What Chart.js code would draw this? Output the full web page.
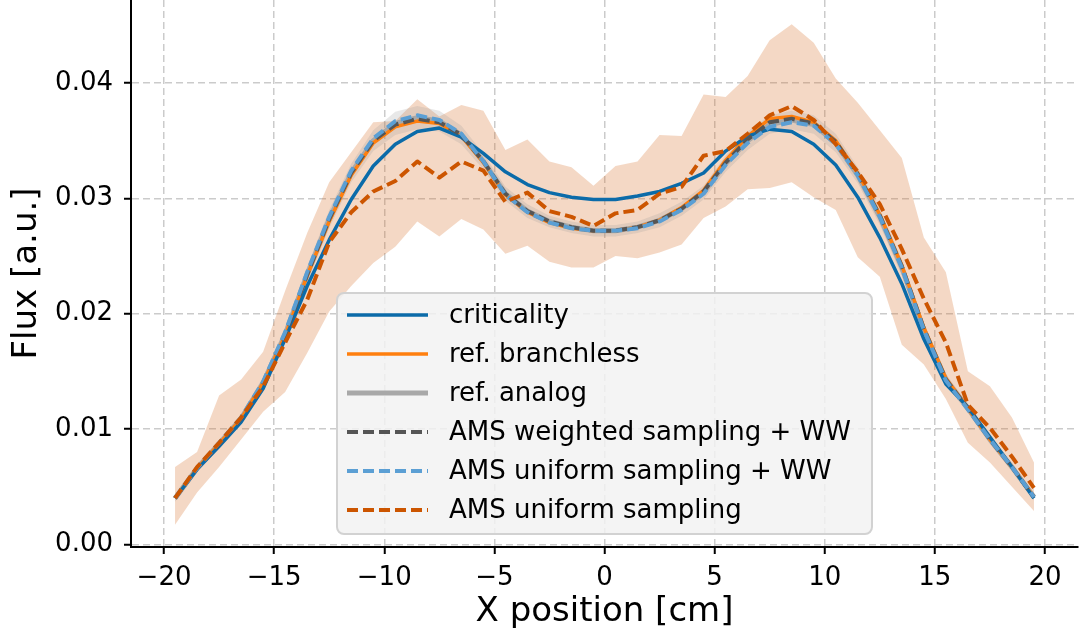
<!DOCTYPE html>
<html>
<head>
<meta charset="utf-8">
<title>Flux profile</title>
<script src="https://cdn.jsdelivr.net/npm/chart.js@4.4.1/dist/chart.umd.min.js"></script>
<style>
    html, body { margin: 0; padding: 0; background: #ffffff; }
    #wrap { width: 1080px; height: 641px; }
</style>
</head>
<body>
<div id="wrap"><canvas id="flux-chart" width="1080" height="641"></canvas></div>
<script>
// --- Data (bin centres, cm) ---

const xPos = [
    -19.5, -18.5, -17.5, -16.5, -15.5, -14.5, -13.5, -12.5, -11.5, -10.5,
    -9.5, -8.5, -7.5, -6.5, -5.5, -4.5, -3.5, -2.5, -1.5, -0.5,
    0.5, 1.5, 2.5, 3.5, 4.5, 5.5, 6.5, 7.5, 8.5, 9.5,
    10.5, 11.5, 12.5, 13.5, 14.5, 15.5, 16.5, 17.5, 18.5, 19.5
];

const xTicks      = [-20, -15, -10, -5, 0, 5, 10, 15, 20];
const xTickLabels = ['\u221220', '\u221215', '\u221210', '\u22125', '0', '5', '10', '15', '20'];
const yTicks      = [0, 0.01, 0.02, 0.03, 0.04];
const yTickLabels = ['0.00', '0.01', '0.02', '0.03', '0.04'];

const criticality = [
    0.0040, 0.0065, 0.0085, 0.0106, 0.0135, 0.0178, 0.0224, 0.0264, 0.0299, 0.0328,
    0.0347, 0.0358, 0.0361, 0.0353, 0.0339, 0.0323, 0.0312, 0.0305, 0.0301, 0.0299,
    0.0299, 0.0302, 0.0306, 0.0313, 0.0322, 0.0341, 0.0354, 0.0360, 0.0358, 0.0347,
    0.0329, 0.0301, 0.0266, 0.0226, 0.0178, 0.0139, 0.0119, 0.0093, 0.0067, 0.0040
];

const refBranchless = [
    0.0040, 0.0066, 0.0087, 0.0109, 0.0140, 0.0181, 0.0233, 0.0280, 0.0320, 0.0348,
    0.0362, 0.0367, 0.0365, 0.0354, 0.0331, 0.0303, 0.0288, 0.0279, 0.0274, 0.0272,
    0.0272, 0.0275, 0.0281, 0.0292, 0.0307, 0.0333, 0.0354, 0.0369, 0.0371, 0.0366,
    0.0350, 0.0322, 0.0286, 0.0242, 0.0188, 0.0144, 0.0118, 0.0091, 0.0067, 0.0041
];

const refAnalog = [
    0.0040, 0.0066, 0.0087, 0.0109, 0.0140, 0.0182, 0.0234, 0.0282, 0.0322, 0.0350,
    0.0365, 0.0370, 0.0367, 0.0355, 0.0332, 0.0304, 0.0289, 0.0280, 0.0275, 0.0272,
    0.0272, 0.0275, 0.0281, 0.0291, 0.0305, 0.0330, 0.0350, 0.0364, 0.0368, 0.0364,
    0.0348, 0.0320, 0.0284, 0.0240, 0.0186, 0.0143, 0.0118, 0.0091, 0.0067, 0.0041
];

const refAnalogHigh = [
    0.0043, 0.0069, 0.0091, 0.0113, 0.0145, 0.0188, 0.0241, 0.0290, 0.0330, 0.0359,
    0.0375, 0.0380, 0.0376, 0.0363, 0.0339, 0.0310, 0.0295, 0.0285, 0.0280, 0.0277,
    0.0277, 0.0280, 0.0287, 0.0297, 0.0311, 0.0337, 0.0358, 0.0372, 0.0376, 0.0372,
    0.0356, 0.0327, 0.0291, 0.0247, 0.0192, 0.0148, 0.0122, 0.0095, 0.0070, 0.0044
];

const refAnalogLow = [
    0.0037, 0.0063, 0.0083, 0.0105, 0.0135, 0.0176, 0.0227, 0.0274, 0.0314, 0.0341,
    0.0355, 0.0360, 0.0358, 0.0347, 0.0325, 0.0298, 0.0283, 0.0275, 0.0270, 0.0267,
    0.0267, 0.0270, 0.0275, 0.0285, 0.0299, 0.0323, 0.0342, 0.0356, 0.0360, 0.0356,
    0.0340, 0.0313, 0.0277, 0.0233, 0.0180, 0.0138, 0.0114, 0.0087, 0.0064, 0.0038
];

const amsWeightedWW = [
    0.0040, 0.0066, 0.0087, 0.0109, 0.0140, 0.0182, 0.0234, 0.0282, 0.0322, 0.0350,
    0.0364, 0.0369, 0.0366, 0.0355, 0.0332, 0.0304, 0.0289, 0.0280, 0.0275, 0.0272,
    0.0272, 0.0275, 0.0281, 0.0291, 0.0306, 0.0331, 0.0351, 0.0366, 0.0369, 0.0365,
    0.0349, 0.0321, 0.0285, 0.0241, 0.0187, 0.0143, 0.0118, 0.0091, 0.0067, 0.0041
];

const amsUniformWW = [
    0.0040, 0.0066, 0.0088, 0.0110, 0.0141, 0.0184, 0.0236, 0.0284, 0.0324, 0.0352,
    0.0367, 0.0372, 0.0368, 0.0356, 0.0332, 0.0303, 0.0288, 0.0279, 0.0274, 0.0272,
    0.0272, 0.0274, 0.0280, 0.0290, 0.0304, 0.0329, 0.0348, 0.0362, 0.0366, 0.0363,
    0.0347, 0.0320, 0.0284, 0.0240, 0.0186, 0.0142, 0.0117, 0.0091, 0.0067, 0.0041
];

const amsUniform = [
    0.0040, 0.0067, 0.0088, 0.0110, 0.0137, 0.0175, 0.0212, 0.0262, 0.0288, 0.0306,
    0.0315, 0.0332, 0.0318, 0.0332, 0.0324, 0.0297, 0.0305, 0.0289, 0.0284, 0.0276,
    0.0287, 0.0290, 0.0304, 0.0310, 0.0337, 0.0341, 0.0356, 0.0372, 0.0380, 0.0368,
    0.0347, 0.0323, 0.0295, 0.0256, 0.0213, 0.0175, 0.0121, 0.0101, 0.0076, 0.0049
];

const amsUniformHigh = [
    0.0067, 0.0080, 0.0129, 0.0143, 0.0167, 0.0220, 0.0270, 0.0314, 0.0340, 0.0366,
    0.0367, 0.0386, 0.0371, 0.0381, 0.0376, 0.0342, 0.0351, 0.0332, 0.0327, 0.0311,
    0.0328, 0.0332, 0.0355, 0.0354, 0.0390, 0.0388, 0.0406, 0.0437, 0.0451, 0.0435,
    0.0404, 0.0383, 0.0359, 0.0335, 0.0266, 0.0236, 0.0150, 0.0137, 0.0110, 0.0071
];

const amsUniformLow = [
    0.0017, 0.0045, 0.0067, 0.0091, 0.0115, 0.0132, 0.0166, 0.0202, 0.0224, 0.0244,
    0.0258, 0.0280, 0.0267, 0.0282, 0.0273, 0.0252, 0.0259, 0.0245, 0.0240, 0.0240,
    0.0250, 0.0248, 0.0253, 0.0260, 0.0283, 0.0293, 0.0308, 0.0309, 0.0314, 0.0301,
    0.0290, 0.0249, 0.0232, 0.0173, 0.0156, 0.0126, 0.0088, 0.0071, 0.0050, 0.0029
];

// --- Styles ---

const FONT = 'DejaVu Sans';
const C_CRIT   = '#0b6ba9';
const C_BRANCH = '#ff7f0e';
const C_ANALOG = '#a8a8a8';
const C_WEIGHT = '#555555';
const C_UNIFWW = '#5b9fd4';
const C_UNIF   = '#cc5500';
const DASH = [11, 5];

function points(values) {
    return xPos.map((x, i) => ({ x, y: values[i] }));
}

function line(label, values, color, width, dash, order, rank) {
    return {
        label,
        data: points(values),
        borderColor: color,
        backgroundColor: color,
        borderWidth: width,
        borderDash: dash,
        borderCapStyle: 'butt',
        borderJoinStyle: 'round',
        pointRadius: 0,
        tension: 0,
        fill: false,
        order,
        legendRank: rank
    };
}

function band(values, color, fill, order) {
    return {
        label: '',
        band: true,
        data: points(values),
        borderWidth: 0,
        borderColor: 'transparent',
        backgroundColor: color,
        pointRadius: 0,
        tension: 0,
        fill,
        order
    };
}

// legend drawn inside the plot area, lower centre
const legendBox = {
    id: 'legendBox',
    afterDraw(chart) {
        const ctx = chart.ctx;
        const items = chart.data.datasets
            .filter(ds => !ds.band)
            .sort((a, b) => a.legendRank - b.legendRank);

        const bx = 337, by = 293, bw = 535, bh = 241;
        ctx.save();
        ctx.beginPath();
        ctx.roundRect(bx, by, bw, bh, 7);
        ctx.fillStyle = 'rgba(242, 242, 242, 0.85)';
        ctx.fill();
        ctx.lineWidth = 2;
        ctx.strokeStyle = '#d2d2d2';
        ctx.stroke();

        ctx.font = '26px "' + FONT + '"';
        ctx.textBaseline = 'middle';
        ctx.textAlign = 'left';

        items.forEach((ds, i) => {
            const y = 315 + i * 39;
            ctx.beginPath();
            ctx.setLineDash(ds.borderDash || []);
            ctx.lineWidth = ds.borderWidth;
            ctx.strokeStyle = ds.borderColor;
            ctx.lineCap = 'butt';
            ctx.moveTo(347, y);
            ctx.lineTo(428, y);
            ctx.stroke();
            ctx.setLineDash([]);
            ctx.fillStyle = '#000000';
            ctx.fillText(ds.label, 449, y + 1);
        });
        ctx.restore();
    }
};

const datasets = [
    band(amsUniformHigh, 'rgba(213, 110, 40, 0.27)', '+1', 20),
    band(amsUniformLow, 'transparent', false, 20),
    band(refAnalogHigh, 'rgba(150, 150, 150, 0.22)', '+1', 19),
    band(refAnalogLow, 'transparent', false, 19),
    line('ref. analog', refAnalog, C_ANALOG, 5, [], 10, 3),
    line('ref. branchless', refBranchless, C_BRANCH, 3.5, [], 9, 2),
    line('criticality', criticality, C_CRIT, 3.5, [], 8, 1),
    line('AMS weighted sampling + WW', amsWeightedWW, C_WEIGHT, 4, DASH, 7, 4),
    line('AMS uniform sampling + WW', amsUniformWW, C_UNIFWW, 4, DASH, 6, 5),
    line('AMS uniform sampling', amsUniform, C_UNIF, 4, DASH, 5, 6)
];

function axisCommon() {
    return {
        type: 'linear',
        grid: {
            color: '#cbcbcb',
            lineWidth: 1.5,
            drawTicks: true,
            tickLength: 7,
            tickWidth: 2,
            tickColor: '#000000',
            tickBorderDash: []
        },
        border: { display: true, color: '#000000', width: 2, dash: [7, 4] },
        ticks: {
            color: '#000000',
            font: { family: FONT, size: 26 },
            autoSkip: false,
            maxRotation: 0
        }
    };
}

const xAxis = axisCommon();
Object.assign(xAxis, {
    min: -21.5,
    max: 21.5,
    afterBuildTicks: scale => { scale.ticks = xTicks.map(v => ({ value: v })); },
    afterFit: scale => {
        scale.height = 94;
        scale.paddingLeft = 0;
        scale.paddingRight = 0;
    },
    title: {
        display: true,
        text: 'X position [cm]',
        color: '#000000',
        font: { family: FONT, size: 34 },
        padding: { top: 0, bottom: 8 }
    }
});
xAxis.ticks.padding = 9;
xAxis.ticks.callback = (value, index) => xTickLabels[index];

const yAxis = axisCommon();
Object.assign(yAxis, {
    min: -0.00023,
    max: 0.0472,
    afterBuildTicks: scale => { scale.ticks = yTicks.map(v => ({ value: v })); },
    afterFit: scale => {
        scale.width = 131;
        scale.paddingTop = 0;
        scale.paddingBottom = 0;
    },
    title: {
        display: true,
        text: 'Flux [a.u.]',
        color: '#000000',
        font: { family: FONT, size: 34 },
        padding: { top: 7, bottom: 0 }
    }
});
yAxis.ticks.padding = 11;
yAxis.ticks.callback = (value, index) => yTickLabels[index];

new Chart(document.getElementById('flux-chart'), {
    type: 'line',
    data: { datasets },
    options: {
        responsive: false,
        animation: false,
        devicePixelRatio: 1,
        layout: { padding: { left: 0, right: 2, top: 0, bottom: 0 } },
        plugins: {
            legend: { display: false },
            tooltip: { enabled: false },
            filler: { propagate: false }
        },
        scales: { x: xAxis, y: yAxis }
    },
    plugins: [legendBox]
});
</script>
</body>
</html>
